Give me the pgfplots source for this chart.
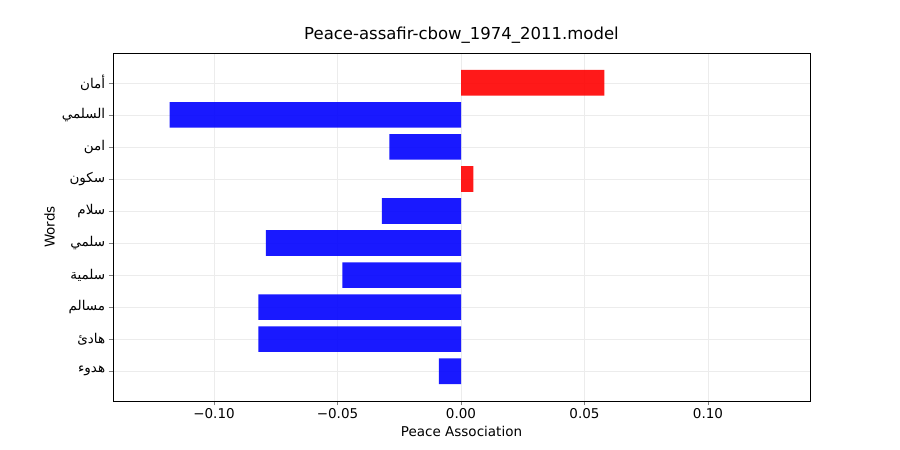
\documentclass[border=0pt]{standalone}
\usepackage{pgfplots}
\pgfplotsset{compat=1.18}
\usepackage{fontspec}
\setmainfont{DejaVu Sans}
\newfontfamily\arabicfont[Script=Arabic]{DejaVu Sans}
\TeXXeTstate=1
\newcommand{\ar}[1]{{\arabicfont\beginR #1\endR}}
\begin{document}
\begin{tikzpicture}
\path (0,0) rectangle (900pt,450pt);
\begin{axis}[at={(113pt,49pt)}, anchor=south west,
 width=697pt, height=348pt, scale only axis,
 xmin=-0.1409, xmax=0.1413, ymin=-0.93, ymax=9.93,
 xbar, bar width=0.8, bar shift=0pt,
 xtick={-0.10,-0.05,0,0.05,0.10},
 xticklabels={−0.10,−0.05,0.00,0.05,0.10},
 ytick={0,...,9},
 yticklabels={\ar{هدوء},\ar{هادئ},\ar{مسالم},\ar{سلمية},\ar{سلمي},\ar{سلام},\ar{سكون},\ar{امن},\ar{السلمي},\ar{أمان}},
 tick label style={font=\fontsize{13.5}{15}\selectfont},
 label style={font=\fontsize{13.5}{15}\selectfont},
 title style={font=\fontsize{16.5}{18}\selectfont},
 title={Peace-assafir-cbow\_1974\_2011.model},
 xlabel={Peace Association}, ylabel={Words},
 grid=major, grid style={gray!15},
 tick align=outside, tick pos=lower,
]
\addplot[fill=blue, draw=none, fill opacity=0.9] coordinates {(-0.009,0) (-0.082,1) (-0.082,2) (-0.048,3) (-0.079,4) (-0.032,5) (-0.029,7) (-0.118,8)};
\addplot[fill=red, draw=none, fill opacity=0.9] coordinates {(0.005,6) (0.058,9)};
\end{axis}
\end{tikzpicture}
\end{document}
